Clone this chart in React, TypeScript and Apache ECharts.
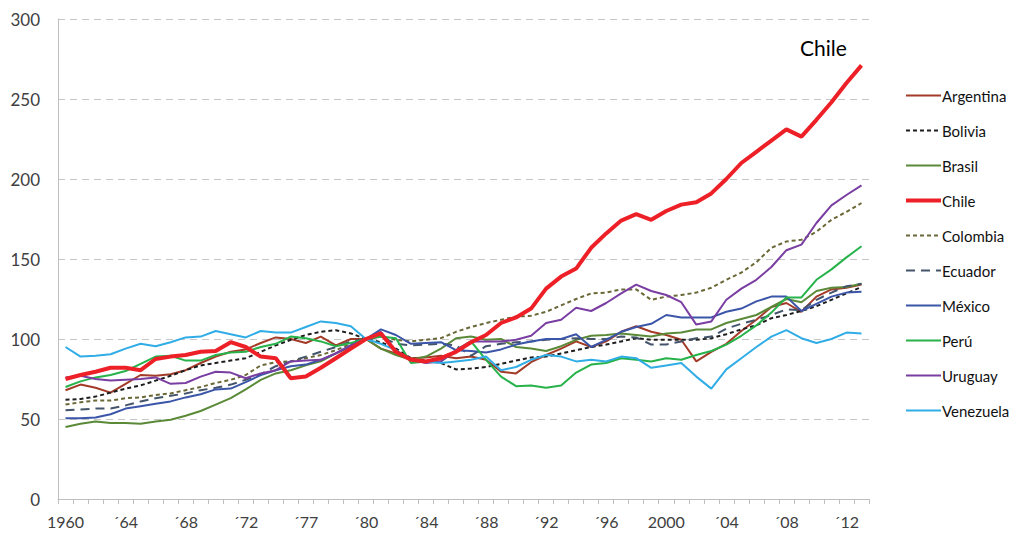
import React, { useEffect, useRef } from "react";
import * as echarts from "echarts";

const years = [
  "1960","1961","1962","1963","1964","1965","1966","1967","1968","1969",
  "1970","1971","1972","1973","1974","1975","1976","1977","1978","1979",
  "1980","1981","1982","1983","1984","1985","1986","1987","1988","1989",
  "1990","1991","1992","1993","1994","1995","1996","1997","1998","1999",
  "2000","2001","2002","2003","2004","2005","2006","2007","2008","2009",
  "2010","2011","2012","2013",
];

// label shown under every 4th year (index -> label)
const tickLabels: Record<number, string> = {
  0: "1960", 4: "´64", 8: "´68", 12: "´72", 16: "´77", 20: "´80", 24: "´84",
  28: "´88", 32: "´92", 36: "´96", 40: "2000", 44: "´04", 48: "´08", 52: "´12",
};

const argentina = [
  68, 71.5, 69.5, 66.5, 72, 77.5, 77, 78, 80.5, 85,
  89, 92, 93.5, 97.5, 101, 100, 97.5, 101.5, 96, 100,
  100, 94, 91, 88, 88.5, 89.5, 88, 89, 87, 79.5,
  78.5, 85.5, 90, 94, 98.5, 95, 98.5, 104.5, 108, 104.5,
  102.5, 99.5, 86, 92, 97, 105, 112, 120, 122.5, 117,
  126.5, 131, 132, 134,
];
const bolivia = [
  62, 62.5, 64, 66.5, 69, 71, 74, 77, 80.5, 83.5,
  85, 86.5, 88, 92, 96, 99.5, 102.5, 104.5, 105.5, 103.5,
  100, 98, 94, 88, 86.5, 85, 81, 81.5, 82.5, 84.5,
  86.5, 88.5, 89, 91, 93, 95, 96.5, 98.5, 100.5, 99.5,
  99.5, 99.5, 99.5, 100.5, 103, 106, 108.5, 113, 115, 117.5,
  120.5, 124.5, 128.5, 132.5,
];
const brasil = [
  45, 47, 48.5, 47.5, 47.5, 47, 48.5, 49.5, 52, 55,
  59, 63, 68.5, 74.5, 78.5, 80.5, 83.5, 86, 91, 95,
  100, 94, 90, 87, 89, 94, 100.5, 101.5, 99.5, 100,
  95, 94, 92.5, 95.5, 99.5, 102, 102.5, 103.5, 102.5, 101.5,
  103.5, 104, 106, 106, 110, 112.5, 115, 120, 125, 123,
  130, 132, 132.5, 134.5,
];
const chile = [
  75, 77.5, 79.5, 82, 82, 80.5, 87.5, 89, 90, 92,
  92.5, 98, 95, 89, 88, 75.5, 76.5, 82, 88, 94,
  100, 103.5, 92, 87, 86, 88, 92, 98, 102.5, 110,
  113.5, 119, 131.5, 139, 144, 157, 166, 174, 178, 174.5,
  180, 184, 185.5, 191, 200, 210, 217, 224, 231, 226.5,
  237, 248, 260, 271,
];
const colombia = [
  59, 60.5, 61.5, 61.5, 63, 63.5, 65, 66, 68, 70,
  72.5, 74.5, 77.5, 83.5, 85.5, 86, 88, 90, 93, 97,
  100, 101.5, 99.5, 98.5, 99.5, 100.5, 104.5, 107.5, 110, 112,
  114, 114.5, 117, 121, 125, 128.5, 129, 131, 131, 124.5,
  126.5, 127.5, 129, 132, 137, 141.5, 148, 157, 161, 162,
  167, 174.5, 179.5, 185,
];
const ecuador = [
  55.5, 56, 56.5, 56.5, 58.5, 61, 63, 64.5, 66, 68,
  69.5, 71.5, 74.5, 78, 83, 86, 89, 92, 95, 98.5,
  100, 101.5, 97, 96, 96.5, 97, 96, 89.5, 95.5, 97,
  98, 98.5, 99.5, 100, 100.5, 100, 100, 101.5, 101, 96.5,
  96.5, 98.5, 100.5, 101.5, 106.5, 109.5, 112, 115, 118.5, 118,
  124.5, 129, 133, 134.5,
];
const mexico = [
  50.5, 50.5, 51, 53, 56.5, 58, 59.5, 61, 63.5, 65.5,
  68.5, 69, 73, 77.5, 80.5, 83, 84, 87, 91, 96,
  100, 106, 102.5, 97, 97.5, 98, 93, 92.5, 91.5, 93.5,
  96.5, 98.5, 100, 100, 103, 95, 99.5, 104.5, 107.5, 109.5,
  115, 113.5, 113.5, 113.5, 117, 119, 123.5, 126.5, 126.5, 117.5,
  122, 126.5, 129, 129.5,
];
const peru = [
  70, 73.5, 76, 77.5, 80, 84.5, 89, 89.5, 86.5, 86.5,
  90, 91.5, 92, 95, 97, 101.5, 100.5, 98.5, 95.5, 97.5,
  100, 101.5, 100.5, 85, 86, 86, 93, 98.5, 87, 76.5,
  70.5, 71, 69.5, 71, 79, 84, 85, 88, 87, 86,
  88, 87, 90, 92.5, 96.5, 102, 108.5, 116.5, 126, 126,
  137, 143.5, 151, 158,
];
const uruguay = [
  76, 77, 75, 74, 74.5, 75, 76, 72, 72.5, 76.5,
  79.5, 79, 75.5, 78.5, 80.5, 86, 86.5, 87, 91, 96,
  100, 104.5, 92, 87, 85, 86, 93, 98.5, 98.5, 98.5,
  99.5, 102, 110, 112, 119.5, 117.5, 122.5, 128.5, 134, 130,
  127.5, 123, 109, 111, 124.5, 131.5, 137, 145, 155.5, 159,
  172.5, 183.5, 190, 196,
];
const venezuela = [
  95, 89, 89.5, 90.5, 94, 97, 95.5, 98, 101, 101.5,
  105, 103, 101, 105, 104, 104, 107.5, 111, 110, 108,
  100, 97, 93, 87, 86, 85, 86, 87, 89, 80.5,
  82.5, 87, 90, 89, 86, 87, 86, 89, 88, 82,
  83.5, 85, 76.5, 69, 81, 88, 95, 101.5, 105.5, 100.5,
  97.5, 100, 104, 103.5,
];

const FONT = "Lato, 'Open Sans', sans-serif";

export default function App() {
  const ref = useRef<HTMLDivElement>(null);
  useEffect(() => {
    if (!ref.current) return;
    const chart = echarts.init(ref.current, undefined, { renderer: "svg" });
    const mk = (name: string, data: number[], color: string, width: number, type: any) => ({
      name,
      type: "line",
      data,
      symbol: "none",
      smooth: false,
      lineStyle: { color, width, type },
      itemStyle: { color },
      emphasis: { disabled: true },
    });
    chart.setOption({
      animation: false,
      textStyle: { fontFamily: FONT },
      grid: { left: 58, top: 19, width: 811, height: 480, containLabel: false },
      xAxis: {
        type: "category",
        data: years,
        boundaryGap: true,
        axisLine: { show: true, lineStyle: { color: "#BFBFBF", width: 1 } },
        axisTick: { show: true, interval: 0, length: 5, lineStyle: { color: "#BFBFBF" } },
        axisLabel: {
          interval: 0,
          margin: 14,
          fontSize: 16,
          color: "#404040",
          fontFamily: FONT,
          formatter: (_v: string, i: number) => tickLabels[i] ?? "",
        },
        splitLine: { show: false },
      },
      yAxis: {
        type: "value",
        min: 0,
        max: 300,
        interval: 50,
        axisLine: { show: true, lineStyle: { color: "#BFBFBF", width: 1 } },
        axisTick: { show: false },
        axisLabel: { fontSize: 17, color: "#404040", margin: 18, fontFamily: FONT },
        splitLine: { show: true, lineStyle: { color: "#C6C6C6", type: [7, 5], width: 1 } },
      },
      legend: {
        orient: "vertical",
        left: 899,
        top: 83,
        itemWidth: 35,
        itemHeight: 14,
        itemGap: 20,
        itemStyle: { opacity: 0 },
        textStyle: { fontSize: 15, color: "#111", fontFamily: FONT, padding: [0, 0, 0, -4] },
        data: [
          "Argentina", "Bolivia", "Brasil",
          { name: "Chile", lineStyle: { width: 4 } },
          "Colombia", "Ecuador", "México", "Perú", "Uruguay", "Venezuela",
        ],
      },
      graphic: [
        {
          type: "text",
          left: 800,
          top: 37,
          style: { text: "Chile", fontSize: 21, fill: "#000", fontFamily: FONT },
        },
      ],
      series: [
        mk("Argentina", argentina, "#A33B28", 2, "solid"),
        mk("Bolivia", bolivia, "#1E1E1E", 2, [4, 3]),
        mk("Brasil", brasil, "#5A8A38", 2, "solid"),
        mk("Colombia", colombia, "#6B6838", 2, [4, 3]),
        mk("Ecuador", ecuador, "#44546A", 2, [9, 6]),
        mk("México", mexico, "#3B55A8", 2, "solid"),
        mk("Perú", peru, "#27B24A", 2, "solid"),
        mk("Uruguay", uruguay, "#7A3EA2", 2, "solid"),
        mk("Venezuela", venezuela, "#30ADE6", 2, "solid"),
        mk("Chile", chile, "#EE2027", 4, "solid"),
      ],
    });
    return () => chart.dispose();
  }, []);
  return (
    <div
      ref={ref}
      style={{ position: "absolute", left: 0, top: 0, width: 1024, height: 535, background: "#fff" }}
    />
  );
}
